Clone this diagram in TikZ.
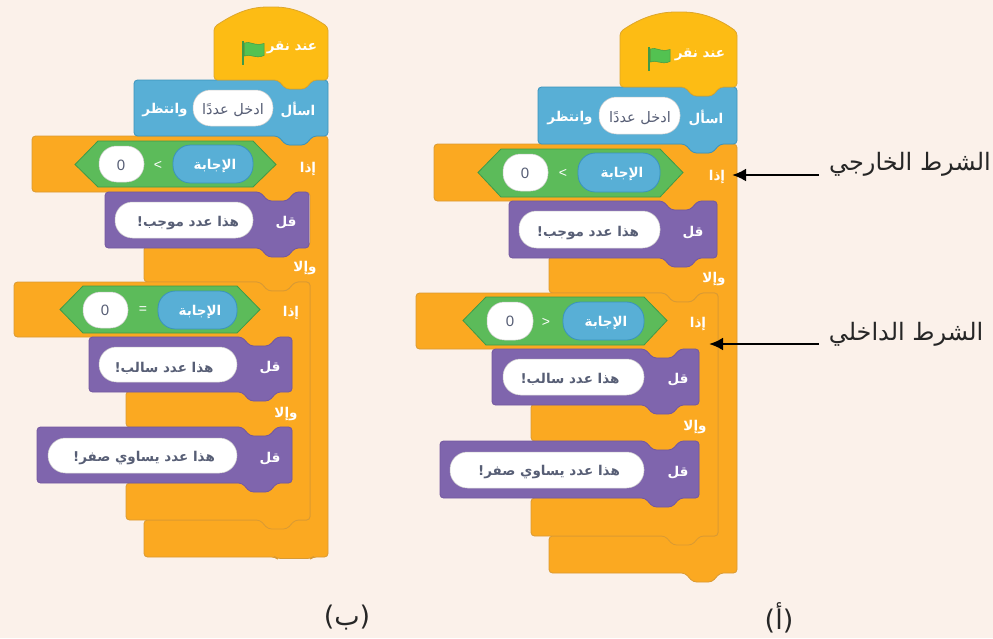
\documentclass[tikz,border=0pt]{standalone}
\usepackage{fontspec}
\setmainfont{Liberation Sans}
\newfontfamily\arabicfont[Script=Arabic]{DejaVu Sans}
\TeXXeTstate=1
\usetikzlibrary{arrows.meta}
\definecolor{bgc}{HTML}{FBF1EA}
\definecolor{orng}{HTML}{FBA921}
\definecolor{orngE}{HTML}{D99A33}
\definecolor{hatc}{HTML}{FDBC14}
\definecolor{hatE}{HTML}{DDA62C}
\definecolor{bluec}{HTML}{58AFD6}
\definecolor{blueE}{HTML}{3A93BC}
\definecolor{purp}{HTML}{7F65AD}
\definecolor{purpE}{HTML}{7357A0}
\definecolor{grn}{HTML}{5CBB5A}
\definecolor{grnE}{HTML}{3F9A48}
\definecolor{inkc}{HTML}{575E75}
\newcommand{\ar}[1]{\beginR #1\endR}
\newcommand{\nR}[2]{-- (#1,#2) -- (#1-8,#2+9) -- (#1-27,#2+9) -- (#1-35,#2)}
\newcommand{\nL}[2]{-- (#1,#2) -- (#1+8,#2+9) -- (#1+27,#2+9) -- (#1+35,#2)}
\newcommand{\pill}[5]{\draw[#5,rounded corners=17.5pt] (#1,#2) rectangle (#3,#4);}
\newcommand{\hexa}[4]{\draw[hexs] (#1,#3+23.5) -- (#1+23,#3) -- (#2-23,#3) -- (#2,#3+23.5) -- (#2-23,#4) -- (#1+23,#4) -- cycle;}
\newcommand{\flagmark}[2]{\begin{scope}[shift={(#1,#2)}]
 \fill[grnE] (0,0) rectangle (2.4,23.5);
 \filldraw[fill=grn!90!green,draw=grnE,line width=.5pt] (2.4,2) .. controls (8,-.5) and (12,5.5) .. (22,2.5) -- (22,14.5) .. controls (13,18.5) and (8,12) .. (2.4,15) -- cycle;
\end{scope}}
\tikzset{
 x=1pt,y=-1pt,
 ctl/.style={fill=orng,draw=orngE,line width=.8pt,rounded corners=3.5pt},
 hatb/.style={fill=hatc,draw=hatE,line width=.8pt,rounded corners=3.5pt},
 askb/.style={fill=bluec,draw=blueE,line width=.8pt,rounded corners=3.5pt},
 sayb/.style={fill=purp,draw=purpE,line width=.8pt,rounded corners=3.5pt},
 hexs/.style={fill=grn,draw=grnE,line width=.8pt},
 wpill/.style={fill=white,draw=white!80!black,line width=.5pt},
 bpill/.style={fill=bluec,draw=blueE,line width=.8pt},
 btxt/.style={text=white,font=\arabicfont\bfseries\fontsize{13.5}{15}\selectfont,inner sep=0pt,yshift=-2pt},
 stxt/.style={text=inkc,font=\arabicfont\bfseries\fontsize{13.5}{15}\selectfont,inner sep=0pt,yshift=-2pt},
 qtxt/.style={text=inkc,font=\arabicfont\fontsize{14.5}{16}\selectfont,inner sep=0pt,yshift=-2pt},
 ztxt/.style={text=inkc,font=\fontsize{15}{17}\selectfont,inner sep=0pt},
 otxt/.style={text=white,font=\fontsize{14}{16}\selectfont,inner sep=0pt},
 lbl/.style={text=black!85,font=\arabicfont\fontsize{24}{26}\selectfont,inner xsep=10pt,inner ysep=0pt},
 capt/.style={text=black!85,font=\arabicfont\fontsize{27}{30}\selectfont,inner sep=0pt},
 arr/.style={draw=black,line width=2.6pt,-{Latex[length=14pt,width=13pt]}}
}
\begin{document}
\begin{tikzpicture}
\useasboundingbox (0,0) rectangle (993,638);
\fill[bgc] (0,0) rectangle (993,638);

% ---------- stack (b), left ----------
\draw[ctl] (328,136) \nR{313}{136} -- (32,136) -- (32,192) \nL{260}{192} -- (310,192) -- (310,246) -- (144,246) -- (144,282) \nL{260}{282} -- (310,282) -- (310,520) -- (144,520) -- (144,557) -- (275,557) -- (277,558.5) -- (311,558.5) -- (313,557) -- (328,557) -- cycle;
\draw[ctl] (310,282) \nR{295}{282} -- (14,282) -- (14,337) \nL{242}{337} -- (292,337) -- (292,391) -- (126,391) -- (126,427) \nL{242}{427} -- (292,427) -- (292,483) -- (126,483) -- (126,520) \nL{260}{520} -- (310,520) -- cycle;
\draw[askb] (328,80) \nR{313}{80} -- (134,80) -- (134,136) \nL{278}{136} -- (328,136) -- cycle;
\draw[hatb] (214,27) .. controls (235,13) and (250,7) .. (271,7) .. controls (292,7) and (307,13) .. (328,27) -- (328,80) \nR{313}{80} -- (214,80) -- cycle;
\draw[sayb] (309,192) \nR{295}{192} -- (105,192) -- (105,248) \nL{260}{248} -- (309,248) -- cycle;
\draw[sayb] (292,337) \nR{277}{337} -- (89,337) -- (89,392) \nL{242}{392} -- (292,392) -- cycle;
\draw[sayb] (292,427) \nR{277}{427} -- (37,427) -- (37,483) \nL{242}{483} -- (292,483) -- cycle;
\flagmark{242}{41}
\node[btxt] (b1) at (292,46) {\ar{عند نقر}};
\node[btxt] (b2) at (298,108) {\ar{اسأل}};
\pill{193}{90}{273}{126}{wpill}
\node[qtxt] (b3) at (233,108) {\ar{ادخل عددًا}};
\node[btxt] (b4) at (165,108) {\ar{وانتظر}};
\node[btxt] (b5) at (308,167) {\ar{إذا}};
\hexa{75}{276}{141}{187}
\pill{173}{145}{253}{183}{bpill}
\pill{99}{146}{144}{182}{wpill}
\node[btxt] (b6) at (215,164) {\ar{الإجابة}};
\node[otxt] (b7) at (158,165) {<};
\node[ztxt] (b8) at (121,165) {0};
\node[btxt] (b9) at (286,221) {\ar{قل}};
\pill{115}{202}{253}{238}{wpill}
\node[stxt] (b10) at (188,221) {\ar{هذا عدد موجب!}};
\node[btxt] (b11) at (305,266) {\ar{وإلا}};
\hexa{60}{260}{286}{333}
\pill{158}{291}{237}{329}{bpill}
\pill{83}{292}{128}{328}{wpill}
\node[btxt] (b12) at (291,311) {\ar{إذا}};
\node[btxt] (b13) at (200,310) {\ar{الإجابة}};
\node[otxt] (b14) at (143,310) {=};
\node[ztxt] (b15) at (105,310) {0};
\node[btxt] (b16) at (270,366) {\ar{قل}};
\pill{99}{347}{237}{382}{wpill}
\node[stxt] (b17) at (164,366) {\ar{هذا عدد سالب!}};
\node[btxt] (b18) at (286,412) {\ar{وإلا}};
\node[btxt] (b19) at (270,457) {\ar{قل}};
\pill{48}{438}{237}{473}{wpill}
\node[stxt] (b20) at (144,456) {\ar{هذا عدد يساوي صفر!}};

% ---------- stack (a), right ----------
\draw[ctl] (737,144) \nR{720}{144} -- (434,144) -- (434,201) \nL{663}{201} -- (717,201) -- (717,256) -- (549,256) -- (549,293) \nL{665}{293} -- (718,293) -- (718,536) -- (549,536) -- (549,573) \nL{685}{573} -- (737,573) -- cycle;
\draw[ctl] (718,293) \nR{700}{293} -- (416,293) -- (416,349) \nL{645}{349} -- (699,349) -- (699,404) -- (531,404) -- (531,441) \nL{645}{441} -- (699,441) -- (699,498) -- (531,498) -- (531,536) \nL{665}{536} -- (718,536) -- cycle;
\draw[askb] (737,87) \nR{720}{87} -- (538,87) -- (538,144) \nL{685}{144} -- (737,144) -- cycle;
\draw[hatb] (620,32) .. controls (640,18) and (658,12) .. (679,12) .. controls (700,12) and (718,18) .. (737,32) -- (737,87) \nR{720}{87} -- (620,87) -- cycle;
\draw[sayb] (717,201) \nR{698}{201} -- (509,201) -- (509,258) \nL{663}{258} -- (717,258) -- cycle;
\draw[sayb] (699,349) \nR{680}{349} -- (492,349) -- (492,405) \nL{645}{405} -- (699,405) -- cycle;
\draw[sayb] (699,441) \nR{680}{441} -- (440,441) -- (440,498) \nL{645}{498} -- (699,498) -- cycle;
\flagmark{648}{47}
\node[btxt] (a1) at (700,53) {\ar{عند نقر}};
\node[btxt] (a2) at (706,116) {\ar{اسأل}};
\pill{599}{97}{680}{134}{wpill}
\node[qtxt] (a3) at (640,116) {\ar{ادخل عددًا}};
\node[btxt] (a4) at (570,116) {\ar{وانتظر}};
\node[btxt] (a5) at (717,175) {\ar{إذا}};
\hexa{478}{683}{149}{197}
\pill{578}{153}{660}{192}{bpill}
\pill{503}{154}{548}{191}{wpill}
\node[btxt] (a6) at (622,172) {\ar{الإجابة}};
\node[otxt] (a7) at (563,173) {<};
\node[ztxt] (a8) at (525,173) {0};
\node[btxt] (a9) at (693,231) {\ar{قل}};
\pill{519}{211}{660}{248}{wpill}
\node[stxt] (a10) at (588,231) {\ar{هذا عدد موجب!}};
\node[btxt] (a11) at (714,277) {\ar{وإلا}};
\hexa{463}{667}{297}{345}
\pill{563}{302}{644}{340}{bpill}
\pill{487}{302}{533}{340}{wpill}
\node[btxt] (a12) at (698,322) {\ar{إذا}};
\node[btxt] (a13) at (606,321) {\ar{الإجابة}};
\node[otxt] (a14) at (546,322) {>};
\node[ztxt] (a15) at (510,321) {0};
\node[btxt] (a16) at (678,378) {\ar{قل}};
\pill{503}{359}{644}{395}{wpill}
\node[stxt] (a17) at (570,377) {\ar{هذا عدد سالب!}};
\node[btxt] (a18) at (695,425) {\ar{وإلا}};
\node[btxt] (a19) at (678,471) {\ar{قل}};
\pill{450}{452}{644}{488}{wpill}
\node[stxt] (a20) at (549,470) {\ar{هذا عدد يساوي صفر!}};

% ---------- annotations ----------
\coordinate (tipA) at (732,175);
\coordinate (tipB) at (709,344);
\node[lbl] (outer) at (910,164) {\ar{الشرط الخارجي}};
\node[lbl] (inner) at (906,334) {\ar{الشرط الداخلي}};
\draw[arr] (outer.west |- tipA) -- (tipA);
\draw[arr] (inner.west |- tipB) -- (tipB);
\node[capt] (capB) at (347,618) {\ar{(ب)}};
\node[capt] (capA) at (779,618) {\ar{(أ)}};
\end{tikzpicture}
\end{document}
